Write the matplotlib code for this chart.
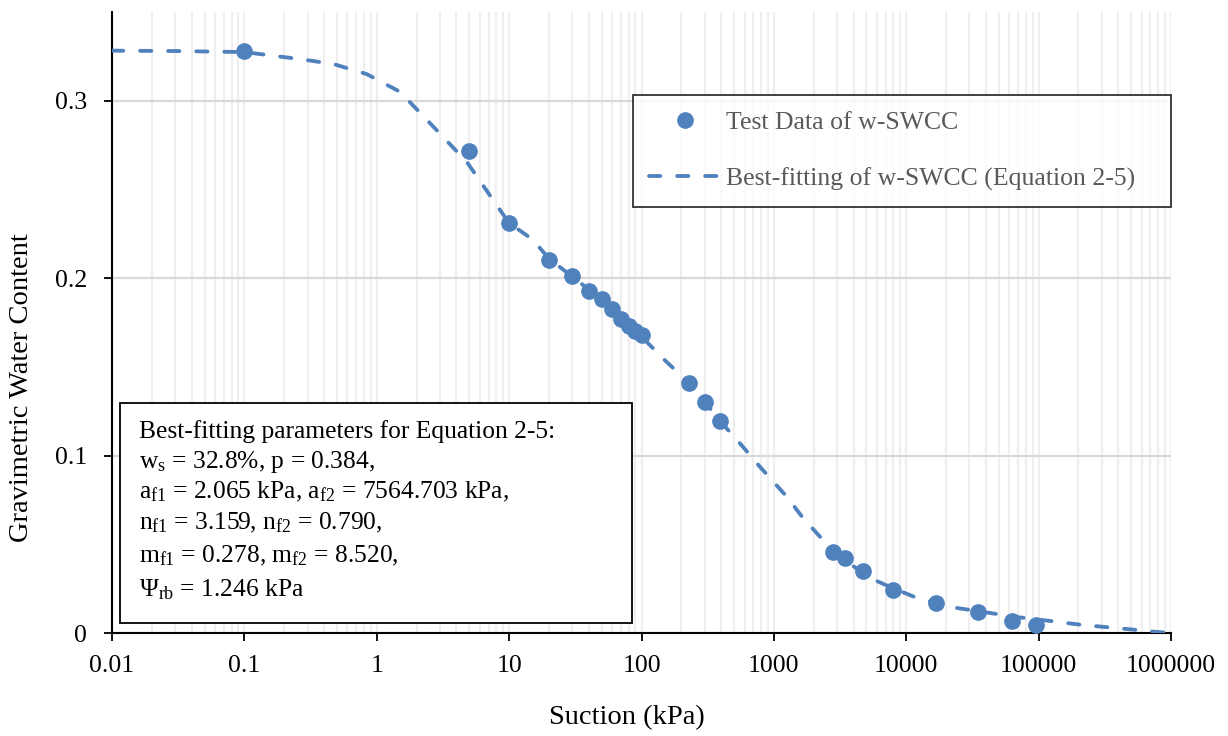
import numpy as np
import matplotlib
matplotlib.use('Agg')
import matplotlib.pyplot as plt
from matplotlib.patches import Rectangle
from matplotlib.ticker import LogLocator, NullFormatter

plt.rcParams['font.family'] = ['Liberation Serif', 'DejaVu Serif']
plt.rcParams['mathtext.fontset'] = 'custom'
plt.rcParams['mathtext.rm'] = 'Liberation Serif'
plt.rcParams['mathtext.it'] = 'Liberation Serif:italic'

# test data (suction kPa, gravimetric water content)
suction = [0.1, 5, 10, 20, 30, 40, 50, 60, 70, 80, 90, 100, 230, 300, 390,
           2800, 3440, 4700, 8000, 16700, 34700, 62700, 95300]
water = [0.328, 0.2716, 0.231, 0.210, 0.201, 0.1925, 0.188, 0.1824, 0.177, 0.1733,
         0.170, 0.1677, 0.141, 0.130, 0.1197, 0.0457, 0.0423, 0.035, 0.0243,
         0.0169, 0.0119, 0.0068, 0.0045]

# best-fitting curve
fit_x = [0.01, 0.03, 0.1, 0.26, 0.47, 0.84, 1.5, 2.65, 4.8, 10, 15, 20, 50, 100,
         156, 230, 390, 583, 784, 1253, 1656, 2344, 3440, 5310, 7510, 12000,
         21400, 37800, 68400, 121600, 216000, 389000, 782000, 1000000]
fit_y = [0.3282, 0.3280, 0.3274, 0.3235, 0.3207, 0.315, 0.305, 0.2857, 0.2654,
         0.231, 0.2219, 0.211, 0.188, 0.167, 0.1525, 0.141, 0.1197, 0.105, 0.0937,
         0.0768, 0.0649, 0.0525, 0.041, 0.0311, 0.026, 0.0198, 0.0147, 0.0119,
         0.009, 0.0068, 0.0045, 0.0028, 0.0006, 0.0]

xticks = [0.01, 0.1, 1, 10, 100, 1000, 10000, 100000, 1000000]
xlabels = ['0.01', '0.1', '1', '10', '100', '1000', '10000', '100000', '1000000']
yticks = [0, 0.1, 0.2, 0.3]
ylabels = ['0', '0.1', '0.2', '0.3']

params = ['Best-fitting parameters for Equation 2-5:',
          r'w$_\mathrm{s}$ = 32.8%, p = 0.384,',
          r'a$_\mathrm{f1}$ = 2.065 kPa, a$_\mathrm{f2}$ = 7564.703 kPa,',
          r'n$_\mathrm{f1}$ = 3.159, n$_\mathrm{f2}$ = 0.790,',
          r'm$_\mathrm{f1}$ = 0.278, m$_\mathrm{f2}$ = 8.520,',
          r'$\Psi_\mathrm{rb}$ = 1.246 kPa']

blue = '#4F81BD'
W, H = 1228, 736


def fx(px):
    return px / W


def fy(py):
    return 1 - py / H


fig = plt.figure(figsize=(12.28, 7.36), dpi=100)
ax = fig.add_axes([fx(112), fy(633), fx(1171) - fx(112), fy(12) - fy(633)])
ax.set_xscale('log')
ax.set_xlim(0.01, 1000000)
ax.set_ylim(0, 0.35)

# grid
ax.xaxis.set_minor_locator(LogLocator(base=10, subs=np.arange(1, 10), numticks=100))
ax.xaxis.set_minor_formatter(NullFormatter())
ax.grid(True, which='minor', axis='x', color='#efefef', lw=1.6)
ax.grid(True, which='major', axis='x', color='#efefef', lw=1.6)
ax.grid(True, which='major', axis='y', color='#d9d9d9', lw=1.6)
ax.set_axisbelow(True)

ax.plot(fit_x, fit_y, color=blue, lw=2.75, dashes=(2.95, 4.4),
        dash_capstyle='round', label='Best-fitting of w-SWCC (Equation 2-5)', zorder=3)
ax.plot(suction, water, 'o', color=blue, ms=11, label='Test Data of w-SWCC', zorder=4)

ax.set_xticks(xticks)
ax.set_xticklabels(xlabels)
ax.set_yticks(yticks)
ax.set_yticklabels(ylabels)
ax.tick_params(axis='x', which='minor', length=0)
ax.tick_params(axis='both', which='major', direction='out', length=6, width=1.3,
               labelsize=18.5, color='black')
ax.tick_params(axis='x', pad=10)
ax.tick_params(axis='y', pad=12)
for s in ['top', 'right']:
    ax.spines[s].set_visible(False)
for s in ['left', 'bottom']:
    ax.spines[s].set_linewidth(1.5)

fig.text(fx(627), fy(718), 'Suction (kPa)', ha='center', va='center', fontsize=20.5)
fig.text(fx(22), fy(388), 'Gravimetric Water Content', ha='center', va='center',
         rotation=90, fontsize=20.5)

# legend
h, l = ax.get_legend_handles_labels()
leg = fig.legend([h[1], h[0]], [l[1], l[0]], loc='upper left',
                 bbox_to_anchor=(fx(633), fy(205), fx(1171) - fx(633), fy(95) - fy(205)),
                 mode='expand', fontsize=18.5, frameon=True, fancybox=False,
                 edgecolor='black', handlelength=2.8, handletextpad=0.2,
                 labelspacing=1.3, borderpad=0.62, borderaxespad=0)
leg.get_frame().set_linewidth(1.3)
for t in leg.get_texts():
    t.set_color('#595959')

# parameter box
fig.patches.append(Rectangle((fx(120), fy(623)), fx(632) - fx(120), fy(403) - fy(623),
                             transform=fig.transFigure, fill=True, facecolor='white',
                             edgecolor='black', lw=1.3, zorder=5))
rows = [432, 462, 492, 523, 556, 590]
for txt, r in zip(params, rows):
    fig.text(fx(139), fy(r), txt, ha='left', va='center', fontsize=18.4, zorder=6)

fig.savefig('out.png', dpi=100)
